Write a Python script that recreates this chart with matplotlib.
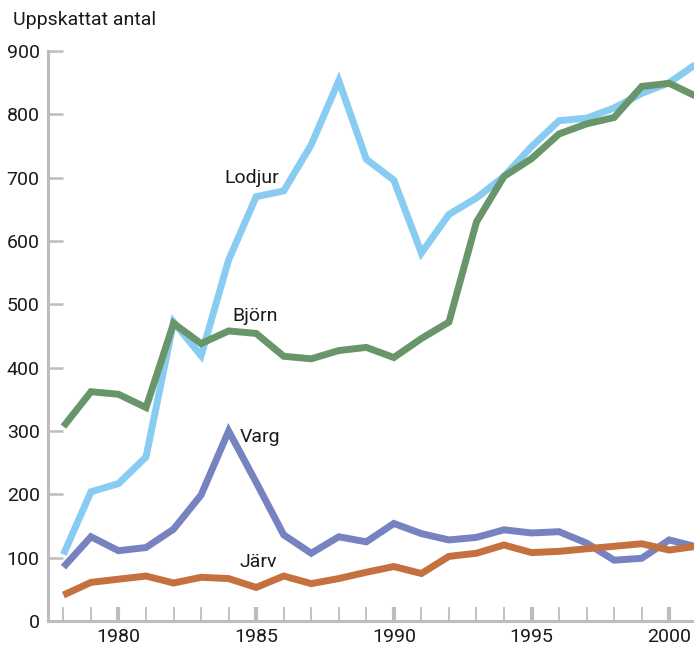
import matplotlib.pyplot as plt
from matplotlib.ticker import MultipleLocator, FixedLocator

# Data
years = list(range(1978, 2002))
lodjur = [105, 204, 217, 259, 472, 419, 570, 670, 679, 752, 853, 729, 696, 581,
          642, 668, 702, 749, 790, 794, 810, 833, 850, 880]
bjorn = [307, 362, 358, 337, 470, 438, 458, 454, 418, 414, 427, 432, 416, 446,
         472, 630, 702, 730, 769, 785, 795, 844, 849, 828]
varg = [85, 133, 111, 116, 145, 199, 300, 219, 136, 107, 133, 125, 154, 138,
        128, 132, 144, 139, 141, 123, 96, 99, 128, 117]
jarv = [41, 61, 66, 71, 60, 69, 67, 53, 71, 59, 67, 77, 86, 75,
        102, 107, 120, 108, 110, 114, 118, 122, 112, 118]

series = [
    ("Lodjur", lodjur, "#88CCF1", (1983.85, 700)),
    ("Varg", varg, "#7683C0", (1984.4, 290)),
    ("Björn", bjorn, "#68956A", (1984.15, 482)),
    ("Järv", jarv, "#C4703F", (1984.4, 93)),
]

plt.rcParams["font.family"] = ["Roboto", "DejaVu Sans"]
GRAY = "#BDBDBD"
TXT = "#1a1a1a"

fig = plt.figure(figsize=(6.94, 6.49), dpi=100)
ax = fig.add_axes([48 / 694, 1 - 621 / 649, 1 - 48 / 694, (621 - 51) / 649])

for name, vals, color, (tx, ty) in series:
    ax.plot(years, vals, color=color, lw=5, solid_joinstyle="miter",
            solid_capstyle="butt")
    ax.text(tx, ty, name, fontsize=14, color=TXT, va="center", ha="left")

ax.set_xlim(1977.44, 2000.9)
ax.set_ylim(0, 900)

for s in ("top", "right"):
    ax.spines[s].set_visible(False)
for s in ("left", "bottom"):
    ax.spines[s].set_color(GRAY)
    ax.spines[s].set_linewidth(2.2)

ax.yaxis.set_major_locator(MultipleLocator(100))
ax.xaxis.set_major_locator(FixedLocator([1980, 1985, 1990, 1995, 2000]))
ax.xaxis.set_minor_locator(FixedLocator(years))

ax.tick_params(axis="y", direction="in", length=11, width=1.8, color=GRAY,
               labelsize=14, labelcolor=TXT, pad=6)
ax.tick_params(axis="x", which="major", direction="in", length=10, width=3,
               color=GRAY, labelsize=14, labelcolor=TXT, pad=5)
ax.tick_params(axis="x", which="minor", direction="in", length=10, width=1.3,
               color=GRAY)

fig.text(13 / 694, 1 - 20 / 649, "Uppskattat antal", fontsize=14,
         color=TXT, va="center", ha="left")

fig.savefig("out.png", dpi=100)
